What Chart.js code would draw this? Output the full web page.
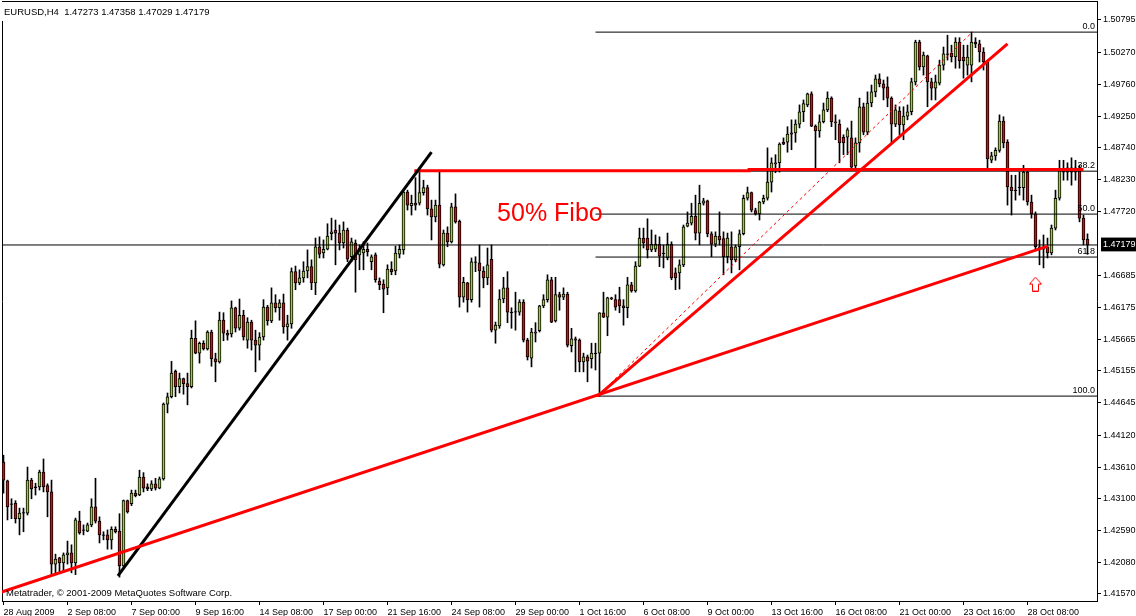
<!DOCTYPE html>
<html><head><meta charset="utf-8">
<script src="https://cdn.jsdelivr.net/npm/chart.js@4.4.1/dist/chart.umd.min.js"></script>
<style>html,body{margin:0;padding:0;background:#fff;overflow:hidden}</style>
</head><body>
<canvas id="c" width="1136" height="616" style="display:block"></canvas>
<script>
const titleText = "EURUSD,H4  1.47273 1.47358 1.47029 1.47179";
const copyrightText = "Metatrader, \u00a9 2001-2009 MetaQuotes Software Corp.";

const opens = [1.4369,1.4339,1.4302,1.4303,1.4278,1.4287,1.4287,1.4340,1.4329,1.4329,1.4353,1.4331,1.4321,1.4205,1.4215,1.4207,1.4220,1.4223,1.4207,1.4274,
1.4260,1.4258,1.4268,1.4297,1.4274,1.4252,1.4252,1.4244,1.4261,1.4258,1.4202,1.4307,1.4302,1.4319,1.4316,1.4345,1.4329,1.4326,1.4334,1.4327,
1.4342,1.4462,1.4474,1.4515,1.4490,1.4503,1.4495,1.4490,1.4568,1.4544,1.4560,1.4551,1.4578,1.4535,1.4530,1.4597,1.4576,1.4575,1.4617,1.4584,
1.4605,1.4565,1.4594,1.4565,1.4557,1.4570,1.4618,1.4596,1.4625,1.4617,1.4625,1.4586,1.4591,1.4675,1.4657,1.4665,1.4676,1.4683,1.4657,1.4715,
1.4705,1.4711,1.4736,1.4742,1.4737,1.4721,1.4742,1.4699,1.4721,1.4702,1.4705,1.4711,1.4691,1.4702,1.4660,1.4655,1.4649,1.4679,1.4676,1.4703,
1.4710,1.4803,1.4781,1.4785,1.4785,1.4802,1.4810,1.4776,1.4763,1.4782,1.4686,1.4737,1.4723,1.4779,1.4756,1.4634,1.4657,1.4630,1.4691,1.4689,
1.4676,1.4665,1.4695,1.4581,1.4588,1.4631,1.4649,1.4610,1.4610,1.4610,1.4626,1.4565,1.4536,1.4578,1.4580,1.4620,1.4630,1.4662,1.4596,1.4638,
1.4634,1.4639,1.4556,1.4567,1.4565,1.4530,1.4538,1.4535,1.4544,1.4544,1.4609,1.4602,1.4633,1.4630,1.4630,1.4620,1.4617,1.4654,1.4644,1.4684,
1.4729,1.4729,1.4710,1.4711,1.4719,1.4705,1.4697,1.4719,1.4673,1.4673,1.4686,1.4748,1.4753,1.4764,1.4737,1.4785,1.4789,1.4736,1.4719,1.4732,
1.4728,1.4699,1.4715,1.4694,1.4715,1.4736,1.4793,1.4802,1.4773,1.4768,1.4787,1.4793,1.4819,1.4850,1.4850,1.4883,1.4883,1.4898,1.4898,1.4912,
1.4932,1.4943,1.4961,1.4909,1.4901,1.4916,1.4935,1.4954,1.4916,1.4912,1.4891,1.4891,1.4890,1.4845,1.4882,1.4940,1.4899,1.4946,1.4964,1.4985,
1.4977,1.4972,1.4954,1.4912,1.4933,1.4911,1.4925,1.4932,1.4980,1.5044,1.5004,1.5022,1.4980,1.4970,1.4978,1.5007,1.5025,1.5026,1.5020,1.5044,
1.5020,1.5007,1.5007,1.5044,1.5041,1.5028,1.5012,1.4854,1.4861,1.4870,1.4917,1.4883,1.4811,1.4806,1.4811,1.4810,1.4835,1.4787,1.4768,1.4715,
1.4711,1.4715,1.4705,1.4745,1.4793,1.4840,1.4835,1.4842,1.4835,1.4838,1.4761,1.47273];
const highs = [1.4380,1.4340,1.4310,1.4307,1.4295,1.4295,1.4361,1.4343,1.4335,1.4356,1.4374,1.4334,1.4340,1.4221,1.4216,1.4223,1.4242,1.4236,1.4279,1.4290,
1.4268,1.4271,1.4310,1.4343,1.4281,1.4257,1.4260,1.4265,1.4265,1.4286,1.4308,1.4308,1.4324,1.4324,1.4356,1.4352,1.4334,1.4339,1.4343,1.4345,
1.4464,1.4480,1.4531,1.4517,1.4512,1.4504,1.4512,1.4581,1.4596,1.4562,1.4564,1.4580,1.4581,1.4544,1.4610,1.4609,1.4581,1.4628,1.4618,1.4631,
1.4613,1.4601,1.4597,1.4581,1.4577,1.4630,1.4621,1.4649,1.4638,1.4630,1.4639,1.4605,1.4681,1.4684,1.4678,1.4691,1.4710,1.4694,1.4729,1.4731,
1.4726,1.4752,1.4761,1.4758,1.4750,1.4755,1.4745,1.4729,1.4726,1.4718,1.4723,1.4721,1.4702,1.4705,1.4665,1.4662,1.4686,1.4691,1.4716,1.4718,
1.4806,1.4806,1.4798,1.4826,1.4835,1.4822,1.4814,1.4790,1.4790,1.4838,1.4742,1.4747,1.4785,1.4800,1.4758,1.4666,1.4658,1.4697,1.4699,1.4718,
1.4683,1.4713,1.4718,1.4594,1.4646,1.4666,1.4675,1.4617,1.4642,1.4630,1.4630,1.4568,1.4584,1.4593,1.4621,1.4638,1.4670,1.4666,1.4666,1.4642,
1.4649,1.4642,1.4584,1.4570,1.4567,1.4544,1.4541,1.4560,1.4560,1.4609,1.4642,1.4634,1.4634,1.4638,1.4650,1.4630,1.4666,1.4658,1.4691,1.4745,
1.4745,1.4760,1.4742,1.4734,1.4731,1.4718,1.4737,1.4723,1.4681,1.4694,1.4750,1.4771,1.4785,1.4798,1.4814,1.4793,1.4790,1.4739,1.4739,1.4771,
1.4739,1.4737,1.4739,1.4718,1.4742,1.4798,1.4811,1.4803,1.4777,1.4788,1.4798,1.4874,1.4858,1.4863,1.4882,1.4890,1.4908,1.4919,1.4919,1.4943,
1.4951,1.4962,1.4964,1.4911,1.4927,1.4946,1.4964,1.4956,1.4927,1.4919,1.4895,1.4906,1.4917,1.4890,1.4954,1.4946,1.4964,1.4975,1.4991,1.4993,
1.4983,1.4988,1.4956,1.4943,1.4940,1.4940,1.4943,1.4986,1.5047,1.5047,1.5028,1.5023,1.4986,1.4991,1.5015,1.5036,1.5055,1.5039,1.5051,1.5051,
1.5039,1.5039,1.5060,1.5051,1.5047,1.5035,1.5015,1.4867,1.4874,1.4927,1.4924,1.4887,1.4830,1.4830,1.4835,1.4846,1.4838,1.4798,1.4771,1.4726,
1.4734,1.4729,1.4750,1.4806,1.4854,1.4854,1.4850,1.4858,1.4854,1.4846,1.4766,1.47358];
const lows = [1.4319,1.4276,1.4278,1.4271,1.4252,1.4257,1.4284,1.4310,1.4316,1.4324,1.4321,1.4281,1.4188,1.4191,1.4191,1.4192,1.4205,1.4191,1.4188,1.4253,
1.4252,1.4257,1.4265,1.4271,1.4239,1.4244,1.4229,1.4229,1.4255,1.4184,1.4199,1.4287,1.4299,1.4313,1.4315,1.4321,1.4323,1.4323,1.4324,1.4326,
1.4340,1.4448,1.4472,1.4474,1.4480,1.4478,1.4461,1.4488,1.4543,1.4528,1.4549,1.4549,1.4523,1.4498,1.4528,1.4564,1.4565,1.4570,1.4578,1.4581,
1.4565,1.4552,1.4549,1.4514,1.4533,1.4565,1.4589,1.4593,1.4610,1.4597,1.4576,1.4565,1.4584,1.4646,1.4654,1.4658,1.4665,1.4646,1.4638,1.4697,
1.4697,1.4710,1.4726,1.4686,1.4710,1.4713,1.4691,1.4691,1.4642,1.4678,1.4678,1.4700,1.4678,1.4658,1.4646,1.4609,1.4638,1.4670,1.4670,1.4697,
1.4703,1.4774,1.4766,1.4774,1.4782,1.4798,1.4766,1.4726,1.4755,1.4681,1.4684,1.4715,1.4721,1.4753,1.4618,1.4626,1.4610,1.4626,1.4675,1.4618,
1.4649,1.4654,1.4578,1.4560,1.4584,1.4625,1.4593,1.4584,1.4581,1.4605,1.4562,1.4533,1.4522,1.4562,1.4578,1.4617,1.4626,1.4593,1.4594,1.4613,
1.4630,1.4554,1.4546,1.4514,1.4514,1.4514,1.4498,1.4520,1.4517,1.4475,1.4601,1.4572,1.4630,1.4613,1.4609,1.4589,1.4601,1.4642,1.4642,1.4683,
1.4713,1.4697,1.4707,1.4707,1.4683,1.4681,1.4694,1.4662,1.4646,1.4647,1.4683,1.4747,1.4750,1.4726,1.4718,1.4782,1.4731,1.4699,1.4715,1.4718,
1.4670,1.4689,1.4673,1.4691,1.4678,1.4734,1.4790,1.4771,1.4766,1.4758,1.4784,1.4790,1.4803,1.4834,1.4835,1.4879,1.4867,1.4871,1.4883,1.4906,
1.4916,1.4940,1.4908,1.4838,1.4891,1.4914,1.4932,1.4908,1.4887,1.4850,1.4863,1.4863,1.4842,1.4842,1.4867,1.4895,1.4895,1.4940,1.4956,1.4972,
1.4951,1.4940,1.4883,1.4908,1.4895,1.4887,1.4919,1.4927,1.4975,1.4999,1.4991,1.4940,1.4951,1.4951,1.4975,1.4999,1.5015,1.5012,1.5002,1.5002,
1.4986,1.4991,1.4980,1.5035,1.5012,1.4999,1.4842,1.4850,1.4854,1.4867,1.4874,1.4782,1.4766,1.4790,1.4798,1.4790,1.4782,1.4761,1.4710,1.4686,
1.4681,1.4697,1.4702,1.4742,1.4790,1.4822,1.4822,1.4814,1.4822,1.4755,1.4718,1.47029];
const closes = [1.4340,1.4297,1.4301,1.4278,1.4287,1.4288,1.4340,1.4326,1.4328,1.4353,1.4329,1.4321,1.4205,1.4213,1.4207,1.4220,1.4223,1.4207,1.4276,1.4255,
1.4259,1.4268,1.4297,1.4274,1.4252,1.4251,1.4244,1.4261,1.4257,1.4202,1.4307,1.4289,1.4319,1.4315,1.4345,1.4327,1.4326,1.4334,1.4327,1.4342,
1.4462,1.4474,1.4512,1.4490,1.4503,1.4495,1.4490,1.4568,1.4544,1.4560,1.4551,1.4578,1.4535,1.4530,1.4597,1.4576,1.4573,1.4617,1.4584,1.4605,
1.4570,1.4594,1.4565,1.4557,1.4570,1.4618,1.4596,1.4625,1.4617,1.4625,1.4586,1.4591,1.4675,1.4657,1.4665,1.4676,1.4683,1.4657,1.4715,1.4703,
1.4711,1.4732,1.4739,1.4737,1.4721,1.4742,1.4695,1.4723,1.4694,1.4713,1.4711,1.4707,1.4699,1.4662,1.4654,1.4647,1.4679,1.4675,1.4705,1.4711,
1.4803,1.4782,1.4785,1.4782,1.4802,1.4810,1.4776,1.4763,1.4782,1.4687,1.4737,1.4723,1.4779,1.4755,1.4634,1.4658,1.4630,1.4691,1.4690,1.4676,
1.4665,1.4686,1.4581,1.4589,1.4631,1.4649,1.4610,1.4609,1.4611,1.4626,1.4565,1.4538,1.4578,1.4576,1.4620,1.4630,1.4662,1.4594,1.4638,1.4634,
1.4639,1.4557,1.4567,1.4565,1.4530,1.4538,1.4531,1.4544,1.4543,1.4609,1.4602,1.4633,1.4631,1.4618,1.4620,1.4617,1.4654,1.4644,1.4684,1.4729,
1.4721,1.4710,1.4719,1.4719,1.4700,1.4704,1.4719,1.4665,1.4665,1.4686,1.4747,1.4753,1.4764,1.4737,1.4785,1.4789,1.4736,1.4719,1.4732,1.4726,
1.4699,1.4729,1.4694,1.4715,1.4736,1.4793,1.4802,1.4774,1.4768,1.4787,1.4793,1.4819,1.4850,1.4848,1.4880,1.4880,1.4896,1.4896,1.4912,1.4932,
1.4945,1.4961,1.4909,1.4901,1.4916,1.4935,1.4954,1.4916,1.4914,1.4882,1.4882,1.4903,1.4843,1.4882,1.4940,1.4899,1.4946,1.4964,1.4985,1.4977,
1.4970,1.4954,1.4912,1.4935,1.4911,1.4925,1.4932,1.4980,1.5044,1.5004,1.5023,1.4980,1.4970,1.4980,1.5007,1.5025,1.5024,1.5020,1.5044,1.5014,
1.5014,1.5020,1.5044,1.5041,1.5028,1.5012,1.4856,1.4861,1.4870,1.4917,1.4882,1.4811,1.4805,1.4805,1.4810,1.4835,1.4787,1.4768,1.4715,1.4711,
1.4715,1.4705,1.4745,1.4793,1.4840,1.4835,1.4842,1.4835,1.4842,1.4761,1.4726,1.47179];

const xTickIndex = [0,16,32,48,64,80,96,112,128,144,160,176,192,208,224,240,256];
const xTickLabels = ["28 Aug 2009","2 Sep 08:00","7 Sep 00:00","9 Sep 16:00","14 Sep 08:00","17 Sep 00:00","21 Sep 16:00","24 Sep 08:00","29 Sep 00:00","1 Oct 16:00","6 Oct 08:00","9 Oct 00:00","13 Oct 16:00","16 Oct 08:00","21 Oct 00:00","23 Oct 16:00","28 Oct 08:00"];
const yTickValues = [1.50795,1.50270,1.49760,1.49250,1.48740,1.48230,1.47720,1.47179,1.46685,1.46175,1.45665,1.45155,1.44645,1.44120,1.43610,1.43100,1.42590,1.42080,1.41570];
const bidPrice = 1.47179;

const fiboLevels = [0.0, 38.2, 50.0, 61.8, 100.0];
const fiboLevelNames = ["0.0","38.2","50.0","61.8","100.0"];
const fiboHigh = 1.5060, fiboLow = 1.4475, fiboStartIndex = 148;
const fiboTrend = [[148.5, 1.4475], [242.2, 1.5060]];
const redTrendLong = [[-0.5, 1.4160], [261.1, 1.4716]];
const redTrendSteep = [[148.5, 1.4475], [251.0, 1.5041]];
const blackTrend = [[28.6, 1.4186], [107.0, 1.4867]];
const redLevel = [[102.7, 1.4837], [186.4, 1.4837], [186.4, 1.4839], [270.0, 1.4839]];
const arrowPoint = [258.0, 1.4655];
const noteText = "50% Fibo", noteIndex = 123.4, notePrice = 1.4756;

const X_MIN = -0.375, X_MAX = 273.375, Y_MIN = 1.41457, Y_MAX = 1.51100;
const FONT = "'Liberation Sans', Arial, sans-serif";
Chart.defaults.font.family = FONT;
Chart.defaults.font.size = 9;
Chart.defaults.color = '#000';

const GREEN = '#9ACD32', RED = '#D01010';
const bodyColors = opens.map((o, i) => Math.abs(closes[i] - o) < 0.00012 ? '#000' : (closes[i] > o ? GREEN : RED));
const pts = arr => arr.map(p => ({x: p[0], y: p[1]}));

const arrowImg = document.createElement('canvas');
arrowImg.width = 13; arrowImg.height = 15;
(function(){
  const a = arrowImg.getContext('2d');
  a.beginPath();
  a.moveTo(6.5, 0.5); a.lineTo(12.5, 7.5); a.lineTo(9.5, 7.5); a.lineTo(9.5, 14.5);
  a.lineTo(3.5, 14.5); a.lineTo(3.5, 7.5); a.lineTo(0.5, 7.5); a.closePath();
  a.fillStyle = '#fff'; a.fill();
  a.strokeStyle = '#ff0000'; a.lineWidth = 1; a.stroke();
})();

const lineDs = (data, color, width, extra) => Object.assign({
  type: 'line', data: pts(data), borderColor: color, borderWidth: width,
  pointRadius: 0, fill: false, tension: 0, order: 0
}, extra || {});

const fiboDatasets = fiboLevels.map(l => {
  const price = fiboHigh - (fiboHigh - fiboLow) * l / 100;
  return lineDs([[fiboStartIndex, price], [X_MAX, price]], '#000', 1, {order: 1});
});

const noPad = s => { s.paddingLeft = 0; s.paddingRight = 0; s.paddingTop = 0; s.paddingBottom = 0; };

const textPlugin = {
  id: 'texts',
  afterDatasetsDraw(chart) {
    const {ctx, chartArea} = chart;
    const xs = chart.scales.x, ys = chart.scales.y;
    ctx.save();
    ctx.font = '9px ' + FONT;
    ctx.fillStyle = '#000';
    ctx.textAlign = 'right';
    ctx.textBaseline = 'alphabetic';
    fiboLevels.forEach((l, k) => {
      const price = fiboHigh - (fiboHigh - fiboLow) * l / 100;
      ctx.fillText(fiboLevelNames[k], chartArea.right - 2, Math.round(ys.getPixelForValue(price)) - 3);
    });
    ctx.font = '25px ' + FONT;
    ctx.fillStyle = '#ff0000';
    ctx.textAlign = 'left';
    ctx.fillText(noteText, xs.getPixelForValue(noteIndex), ys.getPixelForValue(notePrice));
    ctx.font = '9.5px ' + FONT;
    ctx.fillStyle = '#000';
    ctx.fillText(copyrightText, chartArea.left + 4, chartArea.bottom - 5);
    ctx.font = '9.5px ' + FONT;
    const w = ctx.measureText(titleText).width;
    ctx.fillStyle = '#fff';
    ctx.fillRect(0, chartArea.top + 1, w + 8, 19);
    ctx.fillStyle = '#000';
    ctx.fillText(titleText, chartArea.left + 2, chartArea.top + 14);
    ctx.restore();
  }
};

new Chart(document.getElementById('c'), {
  type: 'bar',
  data: {
    datasets: [
      lineDs(redTrendLong, '#ff0000', 3),
      lineDs(redTrendSteep, '#ff0000', 3),
      lineDs(blackTrend, '#000', 3),
      lineDs(redLevel, '#ff0000', 3),
      lineDs(fiboTrend, '#ff0000', 1, {borderDash: [3, 3], order: 1}),
      lineDs([[X_MIN, bidPrice], [X_MAX, bidPrice]], '#000', 1, {order: 1}),
      ...fiboDatasets,
      { type: 'line', data: [{x: arrowPoint[0], y: arrowPoint[1]}], showLine: false,
        pointStyle: arrowImg, pointRadius: 7, order: 0 },
      { type: 'bar', data: opens.map((o, i) => ({x: i, y: [lows[i], highs[i]]})),
        backgroundColor: '#000', borderWidth: 0, barThickness: 1, grouped: false, order: 4 },
      { type: 'bar', data: opens.map((o, i) => ({x: i, y: [o, closes[i]]})),
        backgroundColor: bodyColors, borderColor: '#000', borderWidth: 1, borderSkipped: false,
        barThickness: 3, grouped: false, order: 3 }
    ]
  },
  options: {
    responsive: false, animation: false, devicePixelRatio: 1,
    layout: {padding: 0, autoPadding: false},
    plugins: {legend: {display: false}, tooltip: {enabled: false}},
    scales: {
      x: {
        type: 'linear', position: 'bottom', min: X_MIN, max: X_MAX, offset: false,
        afterFit: s => { s.height = 15; noPad(s); },
        afterBuildTicks: s => { s.ticks = xTickIndex.map(v => ({value: v})); },
        ticks: { autoSkip: false, maxRotation: 0, minRotation: 0, align: 'start', padding: 2,
          color: '#000', font: {size: 9, family: FONT},
          callback: (v, i) => xTickLabels[i] },
        grid: { offset: false, drawOnChartArea: false, drawTicks: true, tickLength: 4, color: '#000' },
        border: { display: true, color: '#000', width: 1 }
      },
      y: {
        type: 'linear', position: 'right', min: Y_MIN, max: Y_MAX,
        afterFit: s => { s.width = 39; noPad(s); },
        afterBuildTicks: s => { s.ticks = yTickValues.map(v => ({value: v})); },
        ticks: { padding: 2, font: {size: 9, family: FONT},
          callback: v => v.toFixed(5),
          color: c => (c.tick && c.tick.value === bidPrice) ? '#fff' : '#000',
          showLabelBackdrop: c => !!(c.tick && c.tick.value === bidPrice),
          backdropColor: '#000', backdropPadding: {left: 2, right: 3, top: 2, bottom: 1} },
        grid: { drawOnChartArea: false, drawTicks: true, tickLength: 4,
          color: c => (c.tick && c.tick.value === bidPrice) ? 'rgba(0,0,0,0)' : '#000' },
        border: { display: true, color: '#000', width: 1 }
      },
      x2: {
        type: 'linear', position: 'top', min: X_MIN, max: X_MAX, offset: false,
        afterFit: s => { s.height = 1; noPad(s); },
        ticks: {display: false}, grid: {display: false, offset: false},
        border: { display: true, color: '#000', width: 1 }
      },
      y2: {
        type: 'linear', position: 'left', min: Y_MIN, max: Y_MAX,
        afterFit: s => { s.width = 2; noPad(s); },
        ticks: {display: false}, grid: {display: false},
        border: { display: true, color: '#000', width: 1 }
      }
    }
  },
  plugins: [textPlugin]
});
</script>
</body></html>
